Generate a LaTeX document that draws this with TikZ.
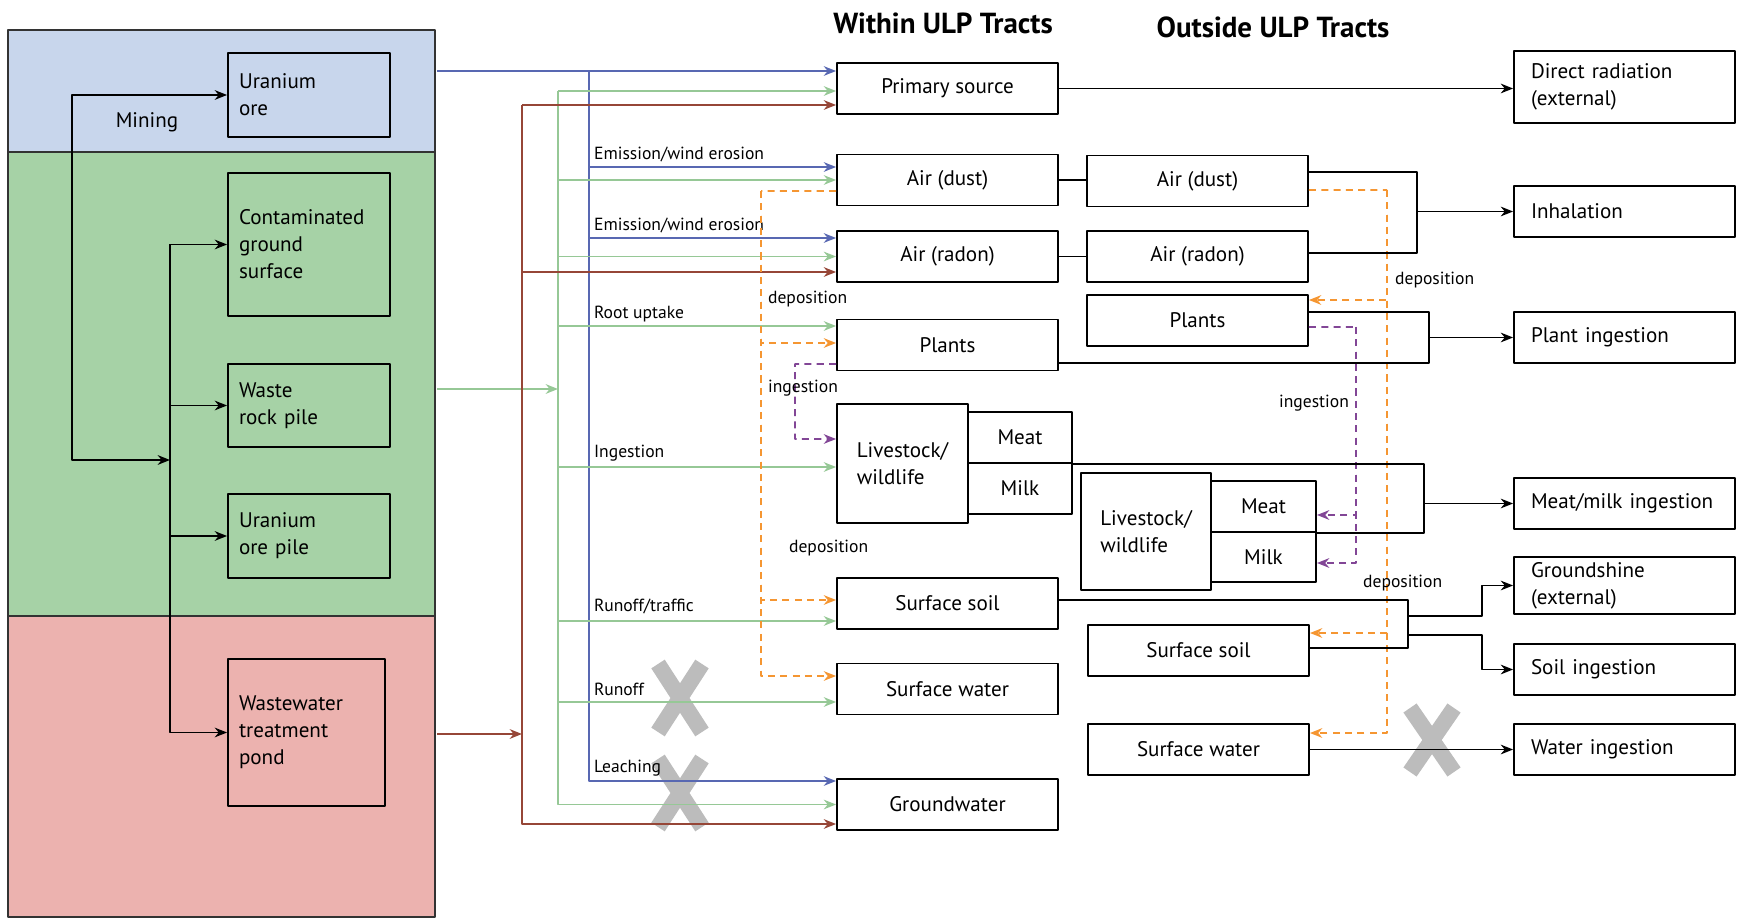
\documentclass[tikz,border=0pt]{standalone}
\usepackage{fontspec}
\setmainfont{PT Sans}
\usetikzlibrary{arrows.meta}

\definecolor{oreblue}{RGB}{200,214,236}
\definecolor{sitegreen}{RGB}{166,210,166}
\definecolor{pondred}{RGB}{236,178,175}
\definecolor{flowblue}{RGB}{88,104,178}
\definecolor{flowgreen}{RGB}{150,200,150}
\definecolor{flowbrown}{RGB}{150,70,55}
\definecolor{deporange}{RGB}{245,150,50}
\definecolor{ingpurple}{RGB}{130,70,150}
\definecolor{crossgray}{RGB}{188,188,188}

\tikzset{
  box/.style={draw, line width=1.1pt, fill=white, minimum width=4.42cm, minimum height=1.02cm,
    inner sep=2pt, font=\fontsize{12}{15.4}\selectfont},
  srcbox/.style={draw, line width=1.1pt, align=left, text width=2.8cm, inner xsep=0.22cm,
    font=\fontsize{12}{15.4}\selectfont},
  outbox/.style={box, align=left, text width=3.74cm, inner xsep=0.34cm},
  title/.style={font=\fontsize{16.5}{18}\selectfont\bfseries},
  txt/.style={font=\fontsize{12}{14}\selectfont},
  lbl/.style={font=\fontsize{10}{12}\selectfont, inner sep=1pt, anchor=west},
  zone/.style={line width=0.8pt, draw=black!80},
  link/.style={line width=1.1pt},
  bflow/.style={line width=0.9pt, flowblue},
  gflow/.style={line width=0.9pt, flowgreen},
  rflow/.style={line width=0.9pt, flowbrown},
  odash/.style={line width=0.9pt, deporange, dash pattern=on 4pt off 3pt},
  pdash/.style={line width=0.9pt, ingpurple, dash pattern=on 4pt off 3pt},
  cross/.style={line width=0.32cm, crossgray}
}

\begin{document}
\begin{tikzpicture}[x=0.02cm, y=-0.02cm, >={Stealth[length=7pt,width=5.5pt]}, line join=round]
  \useasboundingbox (0,0) rectangle (1737,918);

  % 1. Zones of the source area
  \fill[oreblue] (8,30) rectangle (435,152);
  \fill[sitegreen] (8,152) rectangle (435,616);
  \fill[pondred] (8,616) rectangle (435,917);
  \draw[zone] (8,30) rectangle (435,917);
  \draw[zone] (8,152) -- (435,152) (8,616) -- (435,616);

  % 2. Source boxes and mining
  \node[srcbox, minimum height=1.68cm] (uore) at (309,95) {Uranium\\ore};
  \node[srcbox, minimum height=2.86cm] (contam) at (309,244.5) {Contaminated\\ground\\surface};
  \node[srcbox, minimum height=1.66cm] (waste) at (309,405.5) {Waste\\rock pile};
  \node[srcbox, minimum height=1.68cm] (uopile) at (309,536) {Uranium\\ore pile};
  \node[srcbox, text width=2.7cm, minimum height=2.94cm] (pond) at (306.5,732.5) {Wastewater\\treatment\\pond};
  \node[txt] (mining) at (147,122) {Mining};

  \coordinate (mine) at (72,460);
  \coordinate (bus) at (170,0);
  \draw[link,<->] (uore.west) -| (mine) -- (mine -| bus);
  \draw[link,->] (bus |- contam.west) -- (contam.west);
  \foreach \n in {waste,uopile,pond}
    \draw[link,->] (bus |- contam.west) |- (\n.west);

  % 3. Titles
  \node[title] (within) at (943,23) {Within ULP Tracts};
  \node[title] (outside) at (1273,27) {Outside ULP Tracts};

  % 4. Within ULP Tracts
  \node[box] (prim) at (947.5,88.5) {Primary source};
  \node[box] (wdust) at (947.5,180) {Air (dust)};
  \node[box] (wradon) at (947.5,256.5) {Air (radon)};
  \node[box] (wplants) at (947.5,345) {Plants};
  \node[box, minimum width=2.62cm, minimum height=2.38cm, align=left] (wlive) at (902.5,463.5) {Livestock/\\wildlife};
  \node[box, minimum width=2.08cm] (wmeat) at (1020,437.5) {Meat};
  \node[box, minimum width=2.08cm] (wmilk) at (1020,488.5) {Milk};
  \node[box] (wsoil) at (947.5,603.5) {Surface soil};
  \node[box] (wwater) at (947.5,689) {Surface water};
  \node[box] (wgw) at (947.5,804.5) {Groundwater};

  % 5. Outside ULP Tracts
  \node[box] (odust) at (1197.5,181) {Air (dust)};
  \node[box] (oradon) at (1197.5,256.5) {Air (radon)};
  \node[box] (oplants) at (1197.5,320.5) {Plants};
  \node[box, minimum width=2.6cm, minimum height=2.34cm, align=left] (olive) at (1146,531.5) {Livestock/\\wildlife};
  \node[box, minimum width=2.1cm] (omeat) at (1263.5,506.5) {Meat};
  \node[box, minimum width=2.1cm, minimum height=1.0cm] (omilk) at (1263.5,557) {Milk};
  \node[box] (osoil) at (1198.5,650.5) {Surface soil};
  \node[box] (owater) at (1198.5,749.5) {Surface water};

  % 6. Exposure pathways
  \node[outbox, minimum height=1.44cm] (direct) at (1624.5,87) {Direct radiation\\(external)};
  \node[outbox] (inhal) at (1624.5,211.5) {Inhalation};
  \node[outbox] (plantin) at (1624.5,337.5) {Plant ingestion};
  \node[outbox] (meatin) at (1624.5,503.5) {Meat/milk ingestion};
  \node[outbox, minimum height=1.14cm] (ground) at (1624.5,585.5) {Groundshine\\(external)};
  \node[outbox] (soilin) at (1624.5,669.5) {Soil ingestion};
  \node[outbox] (waterin) at (1624.5,749.5) {Water ingestion};

  % 7. Blocked pathways
  \draw[cross] (658,664) -- (702,732) (702,664) -- (658,732);
  \draw[cross] (658,759) -- (702,827) (702,759) -- (658,827);
  \draw[cross] (1410,708) -- (1454,772) (1454,708) -- (1410,772);

  % 8. Release routes from the sources
  \coordinate (bsrc) at (437,71);
  \coordinate (btop) at (589,71);
  \coordinate (gsrc) at (437,389);
  \coordinate (gtop) at (558,91);
  \coordinate (rsrc) at (437,734);
  \coordinate (rtop) at (522,105);

  \draw[bflow,->] (bsrc) -- ([yshift=.35cm]prim.west);
  \draw[bflow,->] (btop) |- ([yshift=.26cm]wdust.west);
  \draw[bflow,->] (btop) |- ([yshift=.37cm]wradon.west);
  \draw[bflow,->] (btop) |- ([yshift=.47cm]wgw.west);

  \draw[gflow,->] (gsrc) -- (gsrc -| gtop);
  \draw[gflow,->] (gtop) -- ([yshift=-.05cm]prim.west);
  \draw[gflow,->] (gtop) |- (wdust.west);
  \draw[gflow,->] (gtop) |- (wradon.west);
  \draw[gflow,->] (gtop) |- ([yshift=.38cm]wplants.west);
  \draw[gflow,->] (gtop) |- ([yshift=-.07cm]wlive.west);
  \draw[gflow,->] (gtop) |- ([yshift=-.35cm]wsoil.west);
  \draw[gflow,->] (gtop) |- ([yshift=-.26cm]wwater.west);
  \draw[gflow,->] (gtop) |- (wgw.west);

  \draw[rflow,->] (rsrc) -- (rsrc -| rtop);
  \draw[rflow,->] (rtop) -- ([yshift=-.33cm]prim.west);
  \draw[rflow,->] (rtop) |- ([yshift=-.31cm]wradon.west);
  \draw[rflow,->] (rtop) |- ([yshift=-.39cm]wgw.west);

  \node[lbl] (em1) at (592,154) {Emission/wind erosion};
  \node[lbl] (em2) at (592,225) {Emission/wind erosion};
  \node[lbl] (root) at (592,314) {Root uptake};
  \node[lbl] (ing) at (592,453) {Ingestion};
  \node[lbl] (runtr) at (592,606) {Runoff/traffic};
  \node[lbl] (run) at (592,689) {Runoff};
  \node[lbl] (leach) at (592,768) {Leaching};

  % 9. Deposition and ingestion inside the tracts
  \coordinate (wdep) at (761,191);
  \coordinate (wing) at (795,364);
  \draw[odash] ([yshift=-.22cm]wdust.west) -- (wdep);
  \draw[odash,->] (wdep) |- ([yshift=.04cm]wplants.west);
  \draw[odash,->] (wdep) |- ([yshift=.07cm]wsoil.west);
  \draw[odash,->] (wdep) |- ([yshift=.26cm]wwater.west);
  \draw[pdash,->] ([yshift=-.38cm]wplants.west) -- (wing) |- ([yshift=.49cm]wlive.west);
  \node[lbl] (wdepl) at (766,299) {deposition};
  \node[lbl] (wingl) at (766,388) {ingestion};
  \node[lbl] (wdepl2) at (787,548) {deposition};

  % 10. Links to the outside
  \draw[link,->] (prim.east) -- (prim.east -| direct.west);
  \draw[link] (wdust.east) -- (wdust.east -| odust.west);
  \draw[link] (wradon.east) -- (oradon.west);

  \coordinate (odep) at (1387,190);
  \coordinate (oing) at (1356,327);
  \draw[odash] ([yshift=-.18cm]odust.east) -- (odep);
  \draw[odash,->] (odep) |- ([yshift=.41cm]oplants.east);
  \draw[odash,->] (odep) |- ([yshift=.35cm]osoil.east);
  \draw[odash,->] (odep) |- ([yshift=.33cm]owater.east);
  \draw[pdash] ([yshift=-.13cm]oplants.east) -- (oing);
  \draw[pdash,->] (oing) |- ([yshift=-.17cm]omeat.east);
  \draw[pdash,->] (oing) |- ([yshift=-.12cm]omilk.east);
  \node[lbl] (odepl) at (1393,280) {deposition};
  \node[lbl, anchor=east] (oingl) at (1351,403) {ingestion};
  \node[lbl] (odepl2) at (1361,583) {deposition};

  % 11. Exposure routes
  \coordinate (ibr) at (1417,211.5);
  \coordinate (pbr) at (1429,337.5);
  \coordinate (mbr) at (1424,503.5);
  \coordinate (sbr1) at (1408,616);
  \coordinate (sbr2) at (1408,635);
  \coordinate (gk) at (1482,585.5);
  \coordinate (sk) at (1482,669.5);

  \draw[link] ([yshift=.18cm]odust.east) -| (ibr) |- ([yshift=.07cm]oradon.east);
  \draw[link,->] (ibr) -- (inhal.west);
  \draw[link] ([yshift=.17cm]oplants.east) -| (pbr) |- ([yshift=-.36cm]wplants.east);
  \draw[link,->] (pbr) -- (plantin.west);
  \draw[link] (wmeat.south east) -| (mbr) |- (omeat.south east);
  \draw[link,->] (mbr) -- (meatin.west);
  \draw[link] ([yshift=.07cm]wsoil.east) -| (sbr1) -- (sbr2) |- ([yshift=.05cm]osoil.east);
  \draw[link,->] (sbr1) -| (gk) -- (ground.west);
  \draw[link,->] (sbr2) -| (sk) -- (soilin.west);
  \draw[link,->] (owater.east) -- (waterin.west);
\end{tikzpicture}
\end{document}
